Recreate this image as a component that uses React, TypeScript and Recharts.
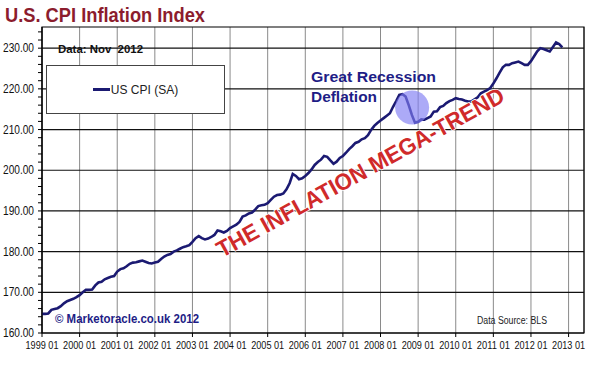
import {
  LineChart,
  Line,
  XAxis,
  YAxis,
  CartesianGrid,
  ReferenceLine,
  ReferenceArea,
  ReferenceDot,
} from 'recharts';

// monthly US CPI (SA)
const cpi1999 = [164.7, 164.7, 164.8, 165.7, 165.9, 166.1, 166.6, 167.3, 167.8, 168.1, 168.4, 168.8];
const cpi2000 = [169.3, 170.0, 170.6, 170.6, 170.7, 171.7, 172.4, 172.6, 173.2, 173.5, 173.8, 174.0];
const cpi2001 = [175.1, 175.7, 175.9, 176.4, 177.0, 177.3, 177.4, 177.6, 177.8, 177.5, 177.2, 177.1];
const cpi2002 = [177.3, 177.5, 178.2, 178.8, 179.2, 179.4, 180.0, 180.3, 180.7, 181.1, 181.3, 181.6];
const cpi2003 = [182.4, 183.3, 183.8, 183.3, 183.0, 183.2, 183.6, 184.1, 185.2, 185.0, 184.7, 185.1];
const cpi2004 = [185.8, 186.2, 186.6, 187.3, 188.6, 188.9, 189.4, 189.6, 190.3, 191.2, 191.4, 191.5];
const cpi2005 = [191.9, 192.7, 193.5, 193.9, 194.0, 194.3, 195.3, 196.8, 199.1, 198.6, 197.8, 198.0];
const cpi2006 = [198.6, 199.3, 200.2, 201.3, 202.0, 202.6, 203.5, 203.3, 202.4, 201.6, 202.1, 203.0];
const cpi2007 = [203.5, 204.3, 205.2, 205.9, 206.7, 207.0, 207.6, 207.9, 208.6, 209.9, 210.9, 211.6];
const cpi2008 = [212.2, 212.8, 213.4, 214.0, 215.6, 217.0, 218.5, 218.7, 218.1, 216.0, 213.6, 211.7];
const cpi2009 = [211.9, 212.5, 212.4, 212.8, 213.2, 214.4, 214.5, 215.5, 215.8, 216.5, 217.0, 217.3];
const cpi2010 = [217.7, 217.5, 217.4, 217.1, 216.9, 216.9, 217.4, 217.9, 218.9, 219.3, 219.7, 220.2];
const cpi2011 = [221.3, 222.6, 224.0, 225.3, 225.9, 225.9, 226.3, 226.5, 226.7, 226.3, 225.9, 225.9];
const cpi2012 = [226.8, 228.0, 229.2, 230.0, 229.8, 229.5, 229.2, 230.3, 231.4, 231.0, 230.2];

const years = [1999, 2000, 2001, 2002, 2003, 2004, 2005, 2006, 2007, 2008, 2009, 2010, 2011, 2012];
const cpiByYear = [cpi1999, cpi2000, cpi2001, cpi2002, cpi2003, cpi2004, cpi2005, cpi2006, cpi2007, cpi2008, cpi2009, cpi2010, cpi2011, cpi2012];

const xTicks = [1999, 2000, 2001, 2002, 2003, 2004, 2005, 2006, 2007, 2008, 2009, 2010, 2011, 2012, 2013];
const yTicks = [160, 162, 164, 166, 168, 170, 172, 174, 176, 178, 180, 182, 184, 186, 188, 190, 192, 194, 196, 198, 200, 202, 204, 206, 208, 210, 212, 214, 216, 218, 220, 222, 224, 226, 228, 230, 232, 234];
const majorLines = [170, 180, 190, 200, 210, 220, 230];

const data = years.flatMap((yr, i) =>
  cpiByYear[i].map((v, m) => ({ t: yr + m / 12, cpi: v }))
);

const FONT = '"Liberation Sans", Arial, sans-serif';
const NAVY = '#1b1a72';

const XTick = (props: any) => {
  const { x, y, payload } = props;
  return (
    <text x={x} y={y + 10} textAnchor="middle" fontSize={11} fontFamily={FONT} fill="#111"
      textLength={33} lengthAdjust="spacingAndGlyphs">
      {`${payload.value} 01`}
    </text>
  );
};

const YTick = (props: any) => {
  const { x, y, payload } = props;
  if (payload.value % 10 !== 0) return <g />;
  return (
    <text x={x - 2} y={y + 4} textAnchor="end" fontSize={12} fontFamily={FONT} fill="#111"
      textLength={31} lengthAdjust="spacingAndGlyphs">
      {payload.value.toFixed(2)}
    </text>
  );
};

export default function App() {
  return (
    <div style={{ position: 'absolute', left: 0, top: 0, width: 600, height: 372, background: '#fff' }}>
      <LineChart width={600} height={372} data={data} margin={{ top: 27, right: 16, bottom: 9, left: 0 }}>
        <CartesianGrid horizontal={false} stroke="#8a8a8a" strokeWidth={1} />
        <XAxis
          dataKey="t"
          type="number"
          domain={[1999, 2013.41]}
          allowDataOverflow
          ticks={xTicks}
          interval={0}
          height={30}
          tickSize={4}
          tickMargin={2}
          stroke="#000"
          tick={<XTick />}
        />
        <YAxis
          type="number"
          domain={[160, 235.2]}
          allowDataOverflow
          ticks={yTicks}
          interval={0}
          width={42}
          tickSize={4}
          tickMargin={2}
          stroke="#000"
          tick={<YTick />}
        />
        {majorLines.map((v) => (
          <ReferenceLine key={v} y={v} stroke="#111" strokeWidth={1.2} />
        ))}
        <ReferenceArea x1={1999} x2={2013.41} y1={160} y2={235.2} fill="none" stroke="#000" strokeWidth={1.2} />
        <Line
          type="linear"
          dataKey="cpi"
          name="US CPI (SA)"
          stroke={NAVY}
          strokeWidth={2.6}
          dot={false}
          isAnimationActive={false}
        />
        <ReferenceDot x={2008.84} y={215.4} r={17} fill="#7f7cf2" fillOpacity={0.65} stroke="none" />
      </LineChart>
      {/* legend box */}
      <div style={{
        position: 'absolute', left: 46, top: 65, width: 177, height: 47, border: '1px solid #444', background: '#fff',
        display: 'flex', alignItems: 'center', justifyContent: 'center', fontFamily: FONT, fontSize: 12, color: '#222',
      }}>
        <span style={{ display: 'inline-block', width: 17, height: 3, background: NAVY, marginRight: 1 }} />
        US CPI (SA)
      </div>
      <svg width={600} height={372} style={{ position: 'absolute', left: 0, top: 0, pointerEvents: 'none' }}>
        <text x={5} y={21.5} fontSize={20} fontWeight="bold" fontFamily={FONT} fill="#8c1c2d"
          textLength={200} lengthAdjust="spacingAndGlyphs">U.S. CPI Inflation Index</text>
        <text x={58} y={52.5} fontSize={11} fontWeight="bold" fontFamily={FONT} fill="#111"
          textLength={85} lengthAdjust="spacingAndGlyphs" xmlSpace="preserve">Data: Nov  2012</text>
        <text x={311} y={82} fontSize={14} fontWeight="bold" fontFamily={FONT} fill="#1e1d86"
          textLength={125} lengthAdjust="spacingAndGlyphs">Great Recession</text>
        <text x={311} y={102} fontSize={14} fontWeight="bold" fontFamily={FONT} fill="#1e1d86"
          textLength={66} lengthAdjust="spacingAndGlyphs">Deflation</text>
        <text x={222} y={258} fontSize={23} fontWeight="bold" fontFamily={FONT} fill="#d02a2a"
          stroke="#fff" strokeWidth={1.5} paintOrder="stroke"
          transform="rotate(-29 222 258)" textLength={325} lengthAdjust="spacingAndGlyphs">THE INFLATION MEGA-TREND</text>
        <text x={55} y={323} fontSize={12} fontWeight="bold" fontFamily={FONT} fill="#1e1d86"
          textLength={144} lengthAdjust="spacingAndGlyphs">© Marketoracle.co.uk 2012</text>
        <text x={477} y={324} fontSize={10} fontFamily={FONT} fill="#222"
          textLength={70} lengthAdjust="spacingAndGlyphs">Data Source: BLS</text>
      </svg>
    </div>
  );
}
